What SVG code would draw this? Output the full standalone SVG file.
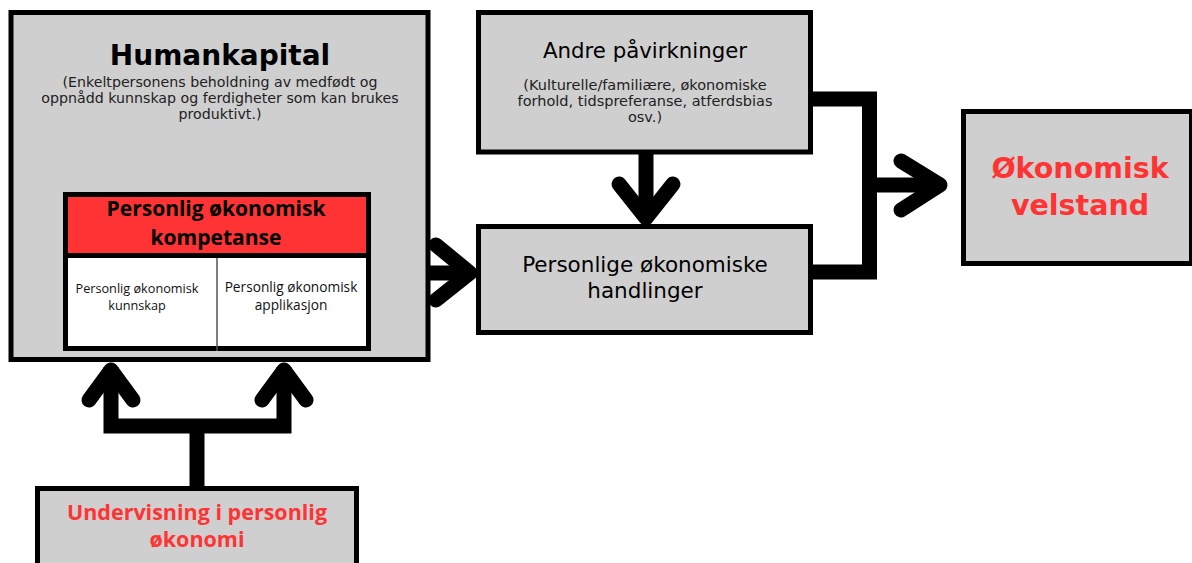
<svg xmlns="http://www.w3.org/2000/svg" width="1192" height="563" viewBox="0 0 1192 563">
<style>
.box{fill:#cfcfcf;stroke:#000;stroke-width:5}
.dv{font-family:"DejaVu Sans",Verdana,sans-serif;text-anchor:middle}
.os{font-family:"Open Sans","Noto Sans",sans-serif;text-anchor:middle}
.sub{font-size:14.2px;fill:#222}
.red{fill:#ff3333}
.shaft{stroke:#000;fill:none;stroke-width:15}
.head{stroke:#000;fill:none;stroke-width:15;stroke-linecap:round;stroke-linejoin:round}
</style>
<rect width="1192" height="563" fill="#fff"/>
<g id="connectors">
  <line class="shaft" x1="408" y1="273" x2="468" y2="273"/>
  <polyline class="head" points="436,245 470,273 436,300"/>
  <line class="shaft" x1="646" y1="154" x2="646" y2="218"/>
  <polyline class="head" points="619,184 646,218 673,184"/>
  <polyline class="shaft" points="813,99 869.5,99 869.5,272 813,272" style="stroke-linejoin:miter"/>
  <line class="shaft" x1="869" y1="185" x2="935" y2="185"/>
  <polyline class="head" points="901,161 940,185 901,210"/>
  <line class="shaft" x1="197" y1="487" x2="197" y2="426"/>
  <polyline class="shaft" points="111,367 111,426 284,426 284,367" style="stroke-linejoin:miter"/>
  <polyline class="head" points="89,400 111,370 133,400"/>
  <polyline class="head" points="262,400 284,370 306,400"/>
</g>
<g id="humankapital">
  <rect class="box" x="11" y="12.5" width="417" height="347"/>
  <text class="dv" x="220" y="65" font-size="28" font-weight="bold" fill="#000">Humankapital</text>
  <text class="dv sub" x="220" y="87">(Enkeltpersonens beholdning av medfødt og</text>
  <text class="dv sub" x="220" y="103">oppnådd kunnskap og ferdigheter som kan brukes</text>
  <text class="dv sub" x="220" y="119">produktivt.)</text>
</g>
<g id="kompetanse">
  <rect x="65.5" y="194.5" width="303" height="154" fill="#fff" stroke="#000" stroke-width="5"/>
  <rect x="68" y="197" width="298" height="58" fill="#ff3333"/>
  <line x1="68" y1="255.5" x2="366" y2="255.5" stroke="#000" stroke-width="5"/>
  <line x1="217" y1="258" x2="217" y2="351" stroke="#555" stroke-width="1.5"/>
  <text class="os" x="216" y="216" font-size="21" font-weight="bold" fill="#000">Personlig økonomisk</text>
  <text class="os" x="216" y="245" font-size="21" font-weight="bold" fill="#000">kompetanse</text>
  <text class="os" x="137" y="293" font-size="12.7" fill="#111">Personlig økonomisk</text>
  <text class="os" x="137" y="309.5" font-size="12.7" fill="#111">kunnskap</text>
  <text class="os" x="291" y="292" font-size="13.7" fill="#111">Personlig økonomisk</text>
  <text class="os" x="291" y="310" font-size="13.7" fill="#111">applikasjon</text>
</g>
<g id="andre">
  <rect class="box" x="478.5" y="12.5" width="332" height="139.5"/>
  <text class="dv" x="645" y="58" font-size="21.3" fill="#000">Andre påvirkninger</text>
  <text class="dv sub" x="645" y="90" style="font-size:14.5px">(Kulturelle/familiære, økonomiske</text>
  <text class="dv sub" x="645" y="106" style="font-size:14.5px">forhold, tidspreferanse, atferdsbias</text>
  <text class="dv sub" x="645" y="122" style="font-size:14.5px">osv.)</text>
</g>
<g id="handlinger">
  <rect class="box" x="478.5" y="226.5" width="332" height="106"/>
  <text class="dv" x="645" y="272" font-size="21.5" fill="#000">Personlige økonomiske</text>
  <text class="dv" x="645" y="298" font-size="21.5" fill="#000">handlinger</text>
</g>
<g id="velstand">
  <rect class="box" x="963.5" y="111.5" width="228" height="152"/>
  <text class="dv red" x="1080" y="178" font-size="28.5" font-weight="bold">Økonomisk</text>
  <text class="dv red" x="1080" y="215" font-size="28.5" font-weight="bold">velstand</text>
</g>
<g id="undervisning">
  <rect class="box" x="37.5" y="488.5" width="319" height="90"/>
  <text class="os red" x="197" y="520" font-size="21.5" font-weight="bold">Undervisning i personlig</text>
  <text class="os red" x="197" y="547" font-size="21.5" font-weight="bold">økonomi</text>
</g>
</svg>
